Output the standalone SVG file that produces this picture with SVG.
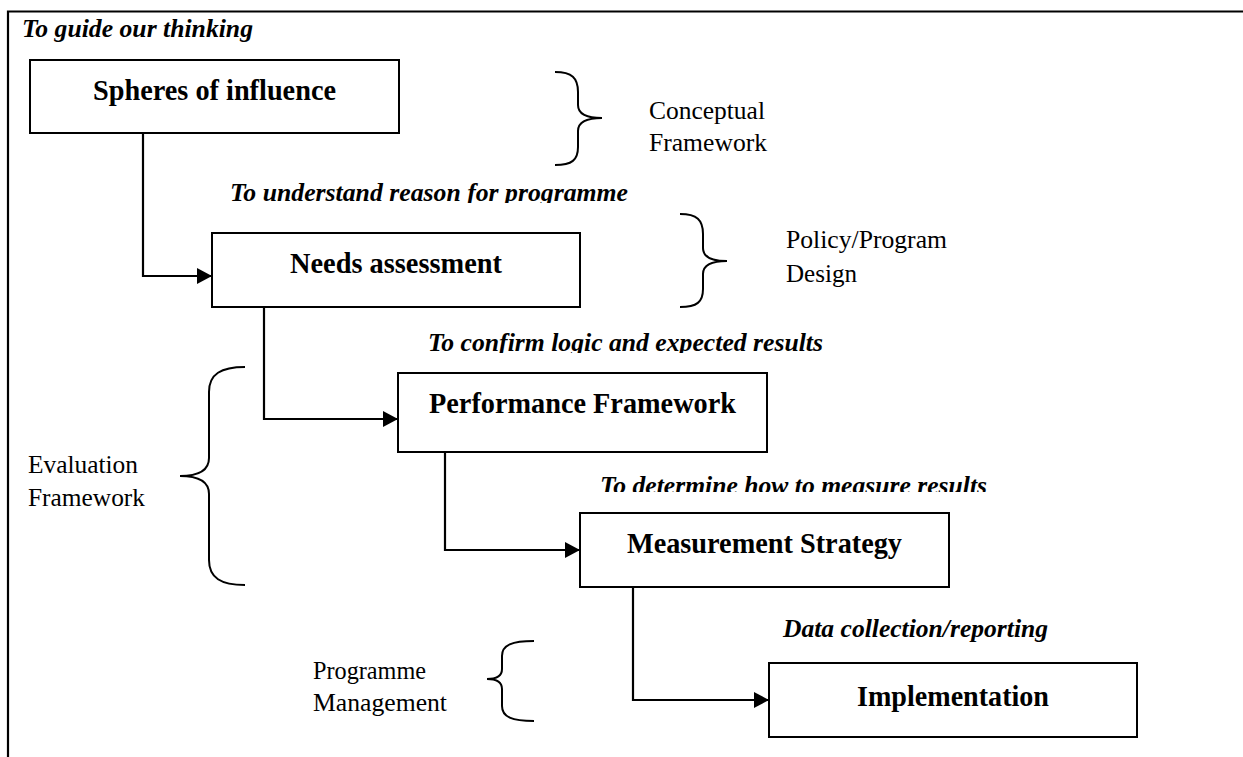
<svg xmlns="http://www.w3.org/2000/svg" width="1243" height="757" viewBox="0 0 1243 757">
<style>
.frame{fill:none;stroke:#000;stroke-width:2.2}
.box{fill:#fff;stroke:#000;stroke-width:2}
.conn{fill:none;stroke:#000;stroke-width:2.2}
.brace{fill:none;stroke:#000;stroke-width:2}
text{font-family:'Liberation Serif','Times New Roman',serif;fill:#000}
.title{font-weight:bold;font-size:30px}
.step{font-weight:bold;font-style:italic;font-size:25.5px}
.lbl{font-size:26px}
</style>
<defs>
<marker id="arrow" markerUnits="userSpaceOnUse" markerWidth="16" markerHeight="16" refX="15" refY="8" orient="auto">
<path d="M0,0 L15,8 L0,16 Z" fill="#000"/>
</marker>
<clipPath id="clip1"><rect x="0" y="0" width="1243" height="203"/></clipPath>
<clipPath id="clip2"><rect x="0" y="0" width="1243" height="353"/></clipPath>
<clipPath id="clip3"><rect x="0" y="0" width="1243" height="492"/></clipPath>
</defs>
<rect width="1243" height="757" fill="#fff"/>
<g id="frame">
<path class="frame" d="M7,11.5 H1243 M8,10.5 V757"/>
</g>
<g id="step-labels">
<text class="step" x="22" y="37" textLength="231" lengthAdjust="spacingAndGlyphs">To guide our thinking</text>
<text class="step" x="230" y="201" textLength="398" lengthAdjust="spacingAndGlyphs" clip-path="url(#clip1)">To understand reason for programme</text>
<text class="step" x="428" y="351" textLength="395" lengthAdjust="spacingAndGlyphs" clip-path="url(#clip2)">To confirm logic and expected results</text>
<text class="step" x="600" y="494" textLength="387" lengthAdjust="spacingAndGlyphs" clip-path="url(#clip3)">To determine how to measure results</text>
<text class="step" x="783" y="637" font-size="24" textLength="265" lengthAdjust="spacingAndGlyphs">Data collection/reporting</text>
</g>
<g id="connectors">
<path class="conn" d="M143,133 V276 H212" marker-end="url(#arrow)"/>
<path class="conn" d="M260,307 H264 V419 H398" marker-end="url(#arrow)"/>
<path class="conn" d="M441,446 H445 V550 H580" marker-end="url(#arrow)"/>
<path class="conn" d="M629,585 H633 V700 H769" marker-end="url(#arrow)"/>
</g>
<g id="spheres">
<rect class="box" x="30" y="60" width="369" height="73"/>
<text class="title" x="214.5" y="100" text-anchor="middle" textLength="243" lengthAdjust="spacingAndGlyphs">Spheres of influence</text>
</g>
<g id="needs">
<rect class="box" x="212" y="233" width="368" height="74"/>
<text class="title" x="396" y="273" text-anchor="middle" textLength="212" lengthAdjust="spacingAndGlyphs">Needs assessment</text>
</g>
<g id="performance">
<rect class="box" x="398" y="373" width="369" height="79"/>
<text class="title" x="582.5" y="413" text-anchor="middle" textLength="307" lengthAdjust="spacingAndGlyphs">Performance Framework</text>
</g>
<g id="measurement">
<rect class="box" x="580" y="513" width="369" height="74"/>
<text class="title" x="764.5" y="553" text-anchor="middle" textLength="275" lengthAdjust="spacingAndGlyphs">Measurement Strategy</text>
</g>
<g id="implementation">
<rect class="box" x="769" y="663" width="368" height="74"/>
<text class="title" x="953" y="706" text-anchor="middle" textLength="192" lengthAdjust="spacingAndGlyphs">Implementation</text>
</g>
<g id="conceptual">
<path class="brace" d="M555,72 C572,72 578,78 578,92 L578,105 C578,113 586,118 602,118 C586,118 578,123 578,131 L578,147 C578,160 572,165 555,165"/>
<text class="lbl" x="649" y="119" textLength="116" lengthAdjust="spacingAndGlyphs">Conceptual</text>
<text class="lbl" x="649" y="151" textLength="118" lengthAdjust="spacingAndGlyphs">Framework</text>
</g>
<g id="policy">
<path class="brace" d="M680,214 C697,214 703,220 703,234 L703,248 C703,256 711,261 727,261 C711,261 703,266 703,274 L703,289 C703,302 697,307 680,307"/>
<text class="lbl" x="786" y="248" textLength="161" lengthAdjust="spacingAndGlyphs">Policy/Program</text>
<text class="lbl" x="786" y="282" textLength="71" lengthAdjust="spacingAndGlyphs">Design</text>
</g>
<g id="evaluation">
<path class="brace" d="M245,367 C221,367 209,374 209,392 L209,458 C209,469 200,476 180,476 C200,476 209,483 209,494 L209,560 C209,578 221,585 245,585"/>
<text class="lbl" x="28" y="473" textLength="110" lengthAdjust="spacingAndGlyphs">Evaluation</text>
<text class="lbl" x="28" y="506" textLength="117" lengthAdjust="spacingAndGlyphs">Framework</text>
</g>
<g id="programme">
<path class="brace" d="M534,641 C512,641 502,645 502,656 L502,669 C502,675 497,679 487,679 C497,679 502,683 502,689 L502,706 C502,717 512,721 534,721"/>
<text class="lbl" x="313" y="679" textLength="113" lengthAdjust="spacingAndGlyphs">Programme</text>
<text class="lbl" x="313" y="711" textLength="134" lengthAdjust="spacingAndGlyphs">Management</text>
</g>
</svg>
